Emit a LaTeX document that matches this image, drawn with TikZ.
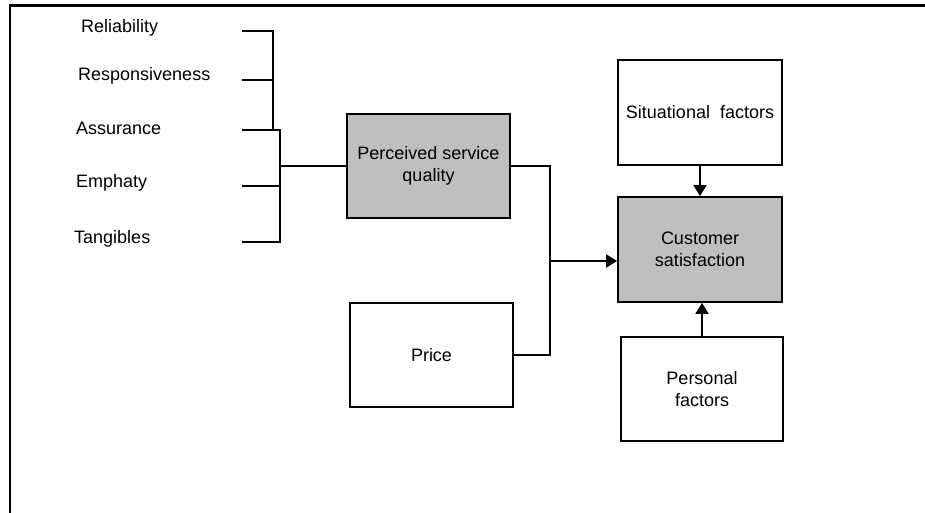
\documentclass[tikz,border=0pt]{standalone}
\usepackage{fontspec}
\setmainfont{Liberation Sans}
\usetikzlibrary{arrows.meta}

\begin{document}
\begin{tikzpicture}[x=1pt,y=-1pt,
        box/.style={draw,line width=1.7pt,minimum width=164pt,minimum height=105pt,
          align=center,inner sep=0pt,font=\fontsize{18}{22}\selectfont},
        shaded/.style={box,fill=gray!50},
        lab/.style={anchor=west,inner sep=0pt,font=\fontsize{18}{22}\selectfont},
        link/.style={line width=1.7pt},
        arr/.style={link,-{Triangle[length=11pt,width=13pt]}}]
        \useasboundingbox (0,0) rectangle (925,513);
        % frame
        \draw[line width=2.4pt] (925,5.5) -- (10,5.5) -- (10,513);
        % dimensions
        \node[lab] (rel) at (81,28) {Reliability};
        \node[lab] (resp) at (78,76) {Responsiveness};
        \node[lab] (ass) at (76,128) {Assurance};
        \node[lab] (emp) at (76,183) {Emphaty};
        \node[lab] (tan) at (74,239) {Tangibles};
        % boxes
        \node[shaded,minimum width=163pt,minimum height=104pt] (psq) at (428.5,166) {Perceived service\\quality};
        \node[box,minimum width=163pt,minimum height=104pt] (price) at (431.5,355) {Price};
        \node[box] (sit) at (700,112.5) {Situational~~factors};
        \node[shaded] (cs) at (700,249.5) {Customer\\satisfaction};
        \node[box,minimum width=162pt,minimum height=104pt] (pers) at (702,389) {Personal\\factors};
        % brackets
        \coordinate (t1) at (242,31);
        \coordinate (t2) at (242,80);
        \coordinate (t3) at (242,130);
        \coordinate (t4) at (242,186);
        \coordinate (t5) at (242,242);
        \coordinate (b1) at (273,130);
        \coordinate (b2) at (280,242);
        \draw[link] (t1) -| (b1) -- (t3);
        \draw[link] (t2) -- (t2 -| b1);
        \draw[link] (t3) -| (b2) -- (t5);
        \draw[link] (t4) -- (t4 -| b2);
        \draw[link] (psq.west -| b2) -- (psq.west);
        % into satisfaction
        \coordinate (jn) at (550,261);
        \draw[link] (psq.east) -| (jn) |- (price.east);
        \draw[arr] (jn) -- (jn -| cs.west);
        \draw[arr] (sit.south) -- (cs.north);
        \draw[arr] (pers.north) -- (pers.north |- cs.south);
\end{tikzpicture}
\end{document}
